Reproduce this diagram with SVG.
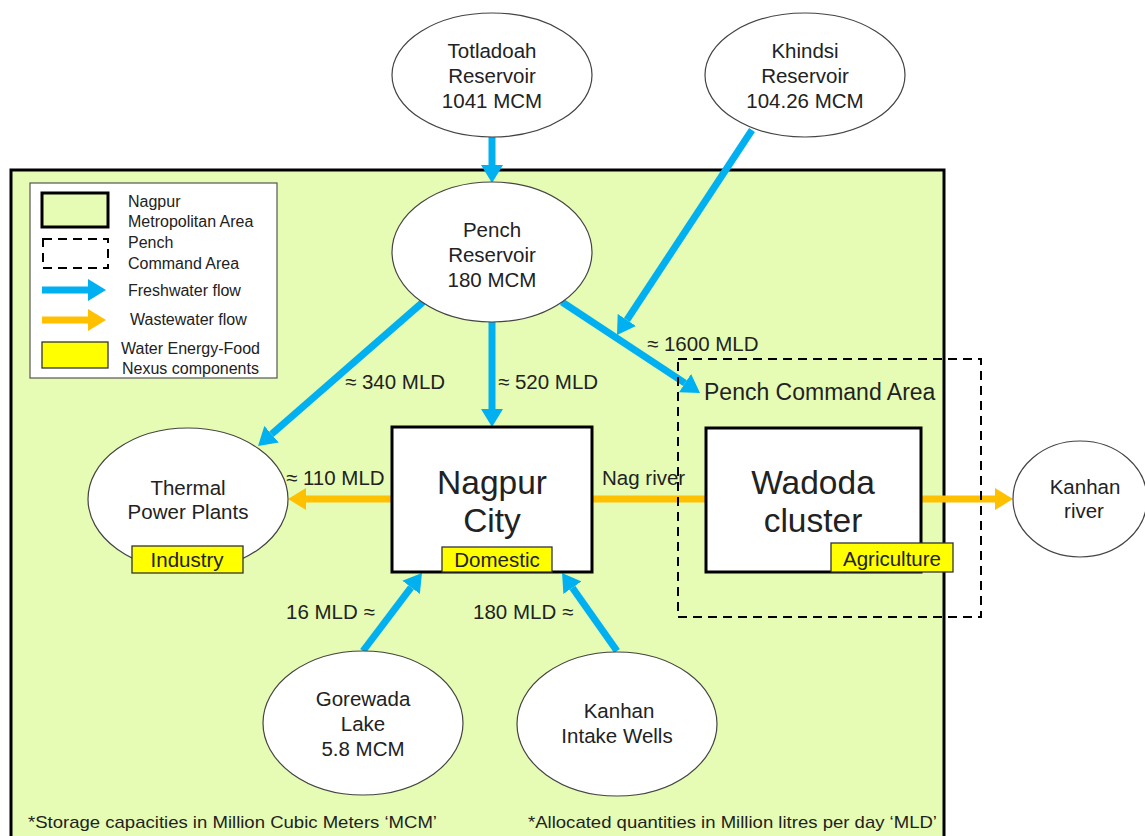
<svg xmlns="http://www.w3.org/2000/svg" width="1145" height="836" viewBox="0 0 1145 836">
<style>
text{font-family:"Liberation Sans",Arial,sans-serif;fill:#222}
.n{font-size:20.5px;text-anchor:middle}
.big{font-size:33.5px;text-anchor:middle}
.lab{font-size:20.5px}
.leg{font-size:16px}
.ell{fill:#fff;stroke:#444;stroke-width:1.2}
.box{fill:#fff;stroke:#000;stroke-width:3}
.tag{fill:#ffff00;stroke:#333;stroke-width:1.3}
.fw{stroke:#00b0f0;stroke-width:7;fill:none}
.ww{stroke:#ffc000;stroke-width:7;fill:none}
.dash{fill:none;stroke:#000;stroke-width:2;stroke-dasharray:9,6}
</style>
<defs>
<marker id="ab" viewBox="0 0 18 22" refX="0" refY="11" markerWidth="18" markerHeight="22" markerUnits="userSpaceOnUse" orient="auto"><path d="M0,0 L18,11 L0,22 Z" fill="#00b0f0"/></marker>
<marker id="ao" viewBox="0 0 18 22" refX="0" refY="11" markerWidth="18" markerHeight="22" markerUnits="userSpaceOnUse" orient="auto"><path d="M0,0 L18,11 L0,22 Z" fill="#ffc000"/></marker>
</defs>
<rect width="1145" height="836" fill="#fff"/>
<g id="metro-area"><rect x="11" y="170" width="933" height="700" fill="#e6fcb4" stroke="#000" stroke-width="3"/></g>

<g id="legend">
<rect x="30" y="183" width="247" height="195" fill="#fff" stroke="#555" stroke-width="1.2"/>
<rect x="42" y="193" width="66" height="34" fill="#e6fcb4" stroke="#000" stroke-width="3"/>
<text class="leg" x="128" y="207">Nagpur</text>
<text class="leg" x="128" y="227">Metropolitan Area</text>
<rect x="43" y="239" width="65" height="29" class="dash" stroke-width="1.8" stroke-dasharray="8,6"/>
<text class="leg" x="128" y="248">Pench</text>
<text class="leg" x="128" y="269">Command Area</text>
<line x1="42" y1="290" x2="88" y2="290" class="fw" marker-end="url(#ab)"/>
<text class="leg" x="128" y="296">Freshwater flow</text>
<line x1="42" y1="320" x2="88" y2="320" class="ww" marker-end="url(#ao)"/>
<text class="leg" x="130" y="325">Wastewater flow</text>
<rect x="42" y="342" width="66" height="26" class="tag"/>
<text class="leg" x="121" y="354">Water Energy-Food</text>
<text class="leg" x="122" y="374">Nexus components</text>
</g>

<g id="connectors">
<line x1="492" y1="137" x2="492" y2="165" class="fw" marker-end="url(#ab)"/>
<line x1="492" y1="322" x2="492" y2="409" class="fw" marker-end="url(#ab)"/>
<line x1="423" y1="302" x2="271.6" y2="434.2" class="fw" marker-end="url(#ab)"/>
<line x1="562" y1="302" x2="685" y2="383.1" class="fw" marker-end="url(#ab)"/>
<line x1="752" y1="130" x2="626.9" y2="320" class="fw" marker-end="url(#ab)"/>
<line x1="363" y1="651" x2="411.1" y2="587.3" class="fw" marker-end="url(#ab)"/>
<line x1="617" y1="651" x2="572.4" y2="587.7" class="fw" marker-end="url(#ab)"/>
<line x1="392" y1="499" x2="306" y2="499" class="ww" marker-end="url(#ao)"/>
<line x1="921" y1="499" x2="995" y2="499" class="ww" marker-end="url(#ao)"/>
<line x1="592" y1="499" x2="706" y2="499" class="ww"/>
<text class="lab" x="345" y="389">≈ 340 MLD</text>
<text class="lab" x="498" y="389">≈ 520 MLD</text>
<text class="lab" x="647" y="351">≈ 1600 MLD</text>
<text class="lab" x="286" y="485">≈ 110 MLD</text>
<text class="lab" x="602" y="485">Nag river</text>
<text class="lab" x="286" y="619">16 MLD ≈</text>
<text class="lab" x="473" y="619">180 MLD ≈</text>
</g>

<g id="totladoah"><ellipse cx="492" cy="75" rx="100" ry="62" class="ell"/>
<text class="n" x="492" y="58">Totladoah</text><text class="n" x="492" y="83">Reservoir</text><text class="n" x="492" y="108">1041 MCM</text></g>
<g id="khindsi"><ellipse cx="805" cy="75" rx="100" ry="62" class="ell"/>
<text class="n" x="805" y="58">Khindsi</text><text class="n" x="805" y="83">Reservoir</text><text class="n" x="805" y="108">104.26 MCM</text></g>
<g id="pench"><ellipse cx="492" cy="252" rx="100" ry="70" class="ell"/>
<text class="n" x="492" y="237">Pench</text><text class="n" x="492" y="262">Reservoir</text><text class="n" x="492" y="287">180 MCM</text></g>
<g id="thermal"><ellipse cx="188" cy="499" rx="100" ry="71" class="ell"/>
<text class="n" x="188" y="495">Thermal</text><text class="n" x="188" y="519">Power Plants</text>
<rect x="132" y="546" width="111" height="27" class="tag"/><text class="n" x="187" y="567">Industry</text></g>
<g id="nagpur"><rect x="392" y="427" width="200" height="145" class="box"/>
<text class="big" x="492" y="494">Nagpur</text><text class="big" x="492" y="532">City</text>
<rect x="442" y="547" width="110" height="25" class="tag"/><text class="n" x="497" y="567">Domestic</text></g>
<g id="wadoda"><rect x="706" y="428" width="215" height="144" class="box"/>
<text class="big" x="813" y="494">Wadoda</text><text class="big" x="813" y="532">cluster</text>
<rect x="831" y="543" width="122" height="29" class="tag"/><text class="n" x="892" y="566">Agriculture</text></g>
<g id="kanhan-river"><ellipse cx="1080" cy="499" rx="67" ry="58" class="ell"/>
<text class="n" x="1085" y="494">Kanhan</text><text class="n" x="1084" y="518">river</text></g>
<g id="gorewada"><ellipse cx="363" cy="723" rx="100" ry="72" class="ell"/>
<text class="n" x="363" y="706">Gorewada</text><text class="n" x="363" y="731">Lake</text><text class="n" x="363" y="756">5.8 MCM</text></g>
<g id="kanhan-intake"><ellipse cx="617" cy="724" rx="100" ry="72" class="ell"/>
<text class="n" x="619" y="718">Kanhan</text><text class="n" x="617" y="743">Intake Wells</text></g>

<g id="pench-command-area"><rect x="678" y="359" width="303" height="258" class="dash"/>
<text x="704" y="400" style="font-size:23px">Pench Command Area</text></g>

<text x="28" y="828" style="font-size:17px" textLength="409" lengthAdjust="spacingAndGlyphs">*Storage capacities in Million Cubic Meters ‘MCM’</text>
<text x="528" y="828" style="font-size:17px" textLength="409" lengthAdjust="spacingAndGlyphs">*Allocated quantities in Million litres per day ‘MLD’</text>
</svg>
